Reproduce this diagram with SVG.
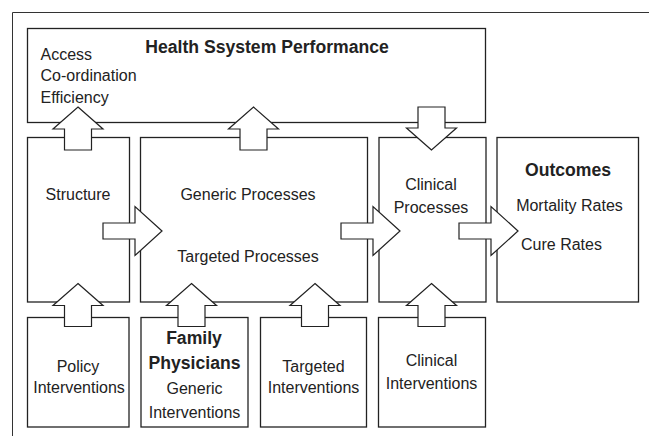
<svg xmlns="http://www.w3.org/2000/svg" xmlns:xlink="http://www.w3.org/1999/xlink" width="649" height="436" viewBox="0 0 649 436">
<style>
.box{fill:#fff;stroke:#222;stroke-width:1.3}
.frame{fill:none;stroke:#333;stroke-width:1}
.arr{fill:#fff;stroke:#222;stroke-width:1.2;stroke-linejoin:miter}
text{font-family:"Liberation Sans",Arial,sans-serif;font-size:16px;fill:#222}
.c{text-anchor:middle}
.b{font-weight:bold;font-size:17.6px}
</style>
<defs>
<polygon id="up" class="arr" points="0,0 25,22 13.5,22 13.5,43 -13.5,43 -13.5,22 -25,22"/>
<polygon id="right" class="arr" points="0,0 -27,-24.5 -27,-8 -59,-8 -59,8 -27,8 -27,24.5"/>
</defs>
<rect width="649" height="436" fill="#fff"/>
<path class="frame" d="M12.5,436 V12.5 H649"/>
<g id="hsp">
<rect class="box" x="27.5" y="28.5" width="458" height="94"/>
<text class="b c" x="267" y="53">Health Ssystem Performance</text>
<text x="40.5" y="60">Access</text>
<text x="40.5" y="81">Co-ordination</text>
<text x="40.5" y="102.5">Efficiency</text>
</g>
<g id="structure">
<rect class="box" x="27.5" y="137.5" width="102" height="164.5"/>
<text class="c" x="78" y="200">Structure</text>
</g>
<g id="processes">
<rect class="box" x="140.5" y="137.5" width="227" height="164.5"/>
<text class="c" x="248" y="200">Generic Processes</text>
<text class="c" x="248" y="261.5">Targeted Processes</text>
</g>
<g id="clinical">
<rect class="box" x="379" y="137.5" width="107" height="164.5"/>
<text class="c" x="431" y="190">Clinical</text>
<text class="c" x="431" y="212.5">Processes</text>
</g>
<g id="outcomes">
<rect class="box" x="497" y="137.5" width="141.5" height="164.5"/>
<text class="b c" x="568" y="175.5">Outcomes</text>
<text class="c" x="569.5" y="210.5">Mortality Rates</text>
<text x="521" y="249.5">Cure Rates</text>
</g>
<g id="policy">
<rect class="box" x="27.5" y="317.5" width="101.5" height="109.5"/>
<text class="c" x="78" y="372">Policy</text>
<text class="c" x="79" y="392.5">Interventions</text>
</g>
<g id="family">
<rect class="box" x="141" y="317.5" width="107" height="109.5"/>
<text class="b c" x="194" y="344">Family</text>
<text class="b c" x="194.5" y="368.5">Physicians</text>
<text class="c" x="194.5" y="394">Generic</text>
<text class="c" x="194.5" y="417.5">Interventions</text>
</g>
<g id="targeted">
<rect class="box" x="260.5" y="317.5" width="106" height="109.5"/>
<text class="c" x="313.5" y="372">Targeted</text>
<text class="c" x="313.5" y="392.5">Interventions</text>
</g>
<g id="clinint">
<rect class="box" x="378.5" y="317.5" width="107" height="109.5"/>
<text class="c" x="431.5" y="366">Clinical</text>
<text class="c" x="431.5" y="388.5">Interventions</text>
</g>
<g id="connectors">
<use xlink:href="#up" x="78" y="107"/>
<use xlink:href="#up" x="253.5" y="107"/>
<use xlink:href="#up" transform="translate(431.5,150) rotate(180)"/>
<use xlink:href="#right" x="162" y="231"/>
<use xlink:href="#right" x="400" y="231"/>
<use xlink:href="#right" x="518" y="231"/>
<use xlink:href="#up" x="78" y="283.5"/>
<use xlink:href="#up" x="191.5" y="283.5"/>
<use xlink:href="#up" x="315" y="283.5"/>
<use xlink:href="#up" x="431.5" y="283.5"/>
</g>
</svg>
